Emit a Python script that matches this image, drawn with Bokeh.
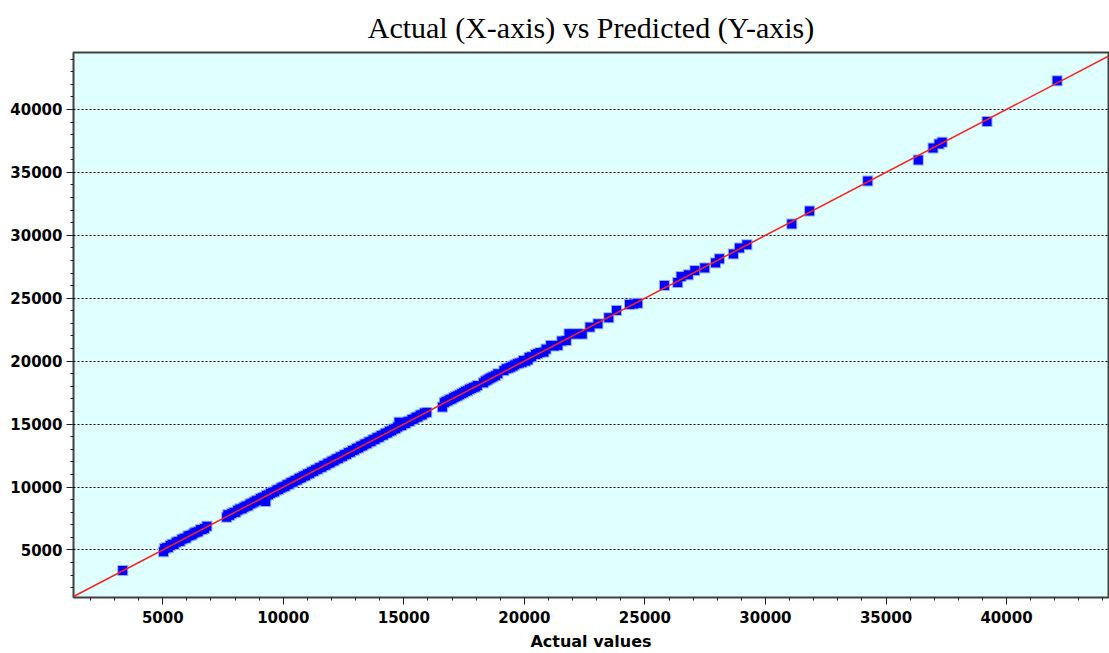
from bokeh.plotting import figure
from bokeh.models import Range1d, SingleIntervalTicker, NumeralTickFormatter, ColumnDataSource
from bokeh.embed import file_html
from bokeh.resources import INLINE

title_text = "Actual (X-axis) vs Predicted (Y-axis)"
x_label = "Actual values"

actual = [
    3340,
    5030, 5080, 5150, 5230, 5310, 5390, 5470, 5560, 5640, 5720, 5800, 5890,
    5970, 6050, 6130, 6220, 6300, 6380, 6470, 6560, 6640, 6730, 6830,
    7650, 7700, 7780, 7860, 7950, 8030, 8110, 8200, 8290, 8370, 8450, 8540,
    8620, 8700, 8790, 8880, 8960, 9050, 9130, 9210, 9270, 9300, 9390, 9470,
    9560, 9640, 9730, 9810, 9900, 9980, 10070, 10150, 10240, 10320, 10410,
    10490, 10580, 10660, 10750, 10830, 10920, 11000, 11090, 11170, 11260,
    11340, 11430, 11510, 11600, 11680, 11770, 11850, 11940, 12020, 12110,
    12190, 12280, 12360, 12450, 12530, 12620, 12700, 12790, 12870, 12960,
    13040, 13130, 13210, 13300, 13380, 13470, 13550, 13640, 13720, 13810,
    13890, 13980, 14060, 14150, 14230, 14320, 14400, 14490, 14570, 14660,
    14740, 14800, 14830, 14910, 15000, 15080, 15170, 15250, 15340, 15420,
    15510, 15590, 15680, 15760, 15850, 15950,
    16600, 16680, 16750, 16830, 16910, 16990, 17070, 17150, 17230, 17310,
    17400, 17480, 17560, 17640, 17720, 17800, 17880, 17970, 18050, 18300,
    18380, 18460, 18540, 18620, 18700, 18800, 18900, 19150, 19250, 19350,
    19430, 19520, 19600, 19710, 19800, 19900, 19960, 20050, 20150, 20200,
    20300, 20460, 20550, 20650, 20810, 20900, 21090, 21240, 21390, 21550,
    21740, 21850, 22000, 22220, 22400, 22720, 23050, 23500, 23820, 24360,
    24530, 24700,
    25810, 26360, 26500, 26800, 27070, 27480, 27930, 28090, 28670, 28920,
    29230, 31090, 31830, 34240, 36340, 36950, 37200, 37330, 39190, 42100,
]

predicted = [
    3370,
    4850, 5120, 5180, 5200, 5350, 5450, 5430, 5620, 5680, 5700, 5850, 5900,
    5950, 6100, 6150, 6200, 6350, 6400, 6450, 6600, 6620, 6700, 6880,
    7600, 7800, 7750, 7900, 7980, 8000, 8150, 8250, 8280, 8400, 8480, 8520,
    8650, 8720, 8800, 8900, 8950, 9080, 9150, 9200, 8850, 9330, 9380, 9500,
    9580, 9620, 9760, 9800, 9920, 10000, 10050, 10180, 10230, 10350, 10400,
    10520, 10560, 10690, 10740, 10860, 10900, 11030, 11080, 11200, 11250,
    11370, 11420, 11540, 11580, 11710, 11750, 11880, 11920, 12050, 12090,
    12220, 12260, 12390, 12430, 12560, 12600, 12730, 12770, 12900, 12940,
    13070, 13110, 13240, 13280, 13410, 13450, 13580, 13620, 13750, 13790,
    13920, 13960, 14090, 14130, 14260, 14300, 14430, 14470, 14600, 14640,
    14770, 15150, 14860, 14890, 15030, 15060, 15200, 15230, 15370, 15400,
    15540, 15570, 15710, 15740, 15880, 15930,
    16350, 16700, 16800, 16850, 16950, 17000, 17100, 17180, 17250, 17330,
    17420, 17500, 17600, 17650, 17760, 17820, 17900, 17950, 18060, 18280,
    18420, 18500, 18600, 18680, 18760, 18850, 19000, 19250, 19400, 19450,
    19520, 19600, 19700, 19800, 19850, 19900, 20050, 20000, 20100, 20300,
    20350, 20530, 20600, 20680, 20720, 20950, 21250, 21200, 21250, 21600,
    21640, 22180, 22150, 22180, 22150, 22700, 22970, 23450, 24030, 24500,
    24540, 24600,
    26010, 26250, 26720, 26860, 27200, 27410, 27810, 28130, 28520, 29000,
    29240, 30900, 31940, 34320, 35980, 36940, 37250, 37400, 39050, 42280,
]

ideal_line = [1300, 44300]

src = ColumnDataSource(data=dict(actual=actual, predicted=predicted))

p = figure(
    width=1109, height=653,
    output_backend="svg", toolbar_location=None,
    x_range=Range1d(1298, 44229), y_range=Range1d(1222, 44524),
    min_border_left=73, min_border_right=1,
    min_border_top=52, min_border_bottom=56,
    title=title_text,
)
p.background_fill_color = "#E0FFFF"
p.border_fill_color = "white"
p.outline_line_color = "#404040"
p.outline_line_width = 2

p.title.align = "center"
p.title.text_font = "Liberation Serif"
p.title.text_font_style = "normal"
p.title.text_font_size = "30px"
p.title.text_color = "black"
p.title.standoff = 17

for ax in (p.xaxis[0], p.yaxis[0]):
    ax.ticker = SingleIntervalTicker(interval=5000, num_minor_ticks=5)
    ax.formatter = NumeralTickFormatter(format="0")
    ax.major_label_text_font = "DejaVu Sans"
    ax.major_label_text_font_style = "bold"
    ax.major_label_text_font_size = "15px"
    ax.major_label_text_color = "black"
    ax.major_tick_out = 7
    ax.major_tick_in = 0
    ax.minor_tick_out = 3
    ax.minor_tick_in = 0
    ax.major_tick_line_color = "#202020"
    ax.minor_tick_line_color = "#202020"
    ax.axis_line_color = "#404040"
    ax.axis_line_width = 1

p.yaxis.major_label_standoff = 4
p.xaxis.major_label_standoff = 6
p.xaxis.axis_label = x_label
p.xaxis.axis_label_text_font = "DejaVu Sans"
p.xaxis.axis_label_text_font_style = "bold"
p.xaxis.axis_label_text_font_size = "16px"
p.xaxis.axis_label_text_color = "black"
p.xaxis.axis_label_standoff = 6

p.xgrid.grid_line_color = None
p.ygrid.ticker = SingleIntervalTicker(interval=5000)
p.ygrid.grid_line_color = "black"
p.ygrid.grid_line_dash = "2 2"
p.ygrid.grid_line_width = 1

# light-blue halo, then solid blue squares, then the red identity line
p.scatter("actual", "predicted", source=src, marker="square", size=11,
          fill_color="#8FAFFF", line_color=None)
p.scatter("actual", "predicted", source=src, marker="square", size=9,
          fill_color="#0000FF", line_color=None)
p.line(ideal_line, ideal_line, line_color="#FF2020", line_width=1.5)

open("out.html", "w").write(file_html(p, INLINE))
